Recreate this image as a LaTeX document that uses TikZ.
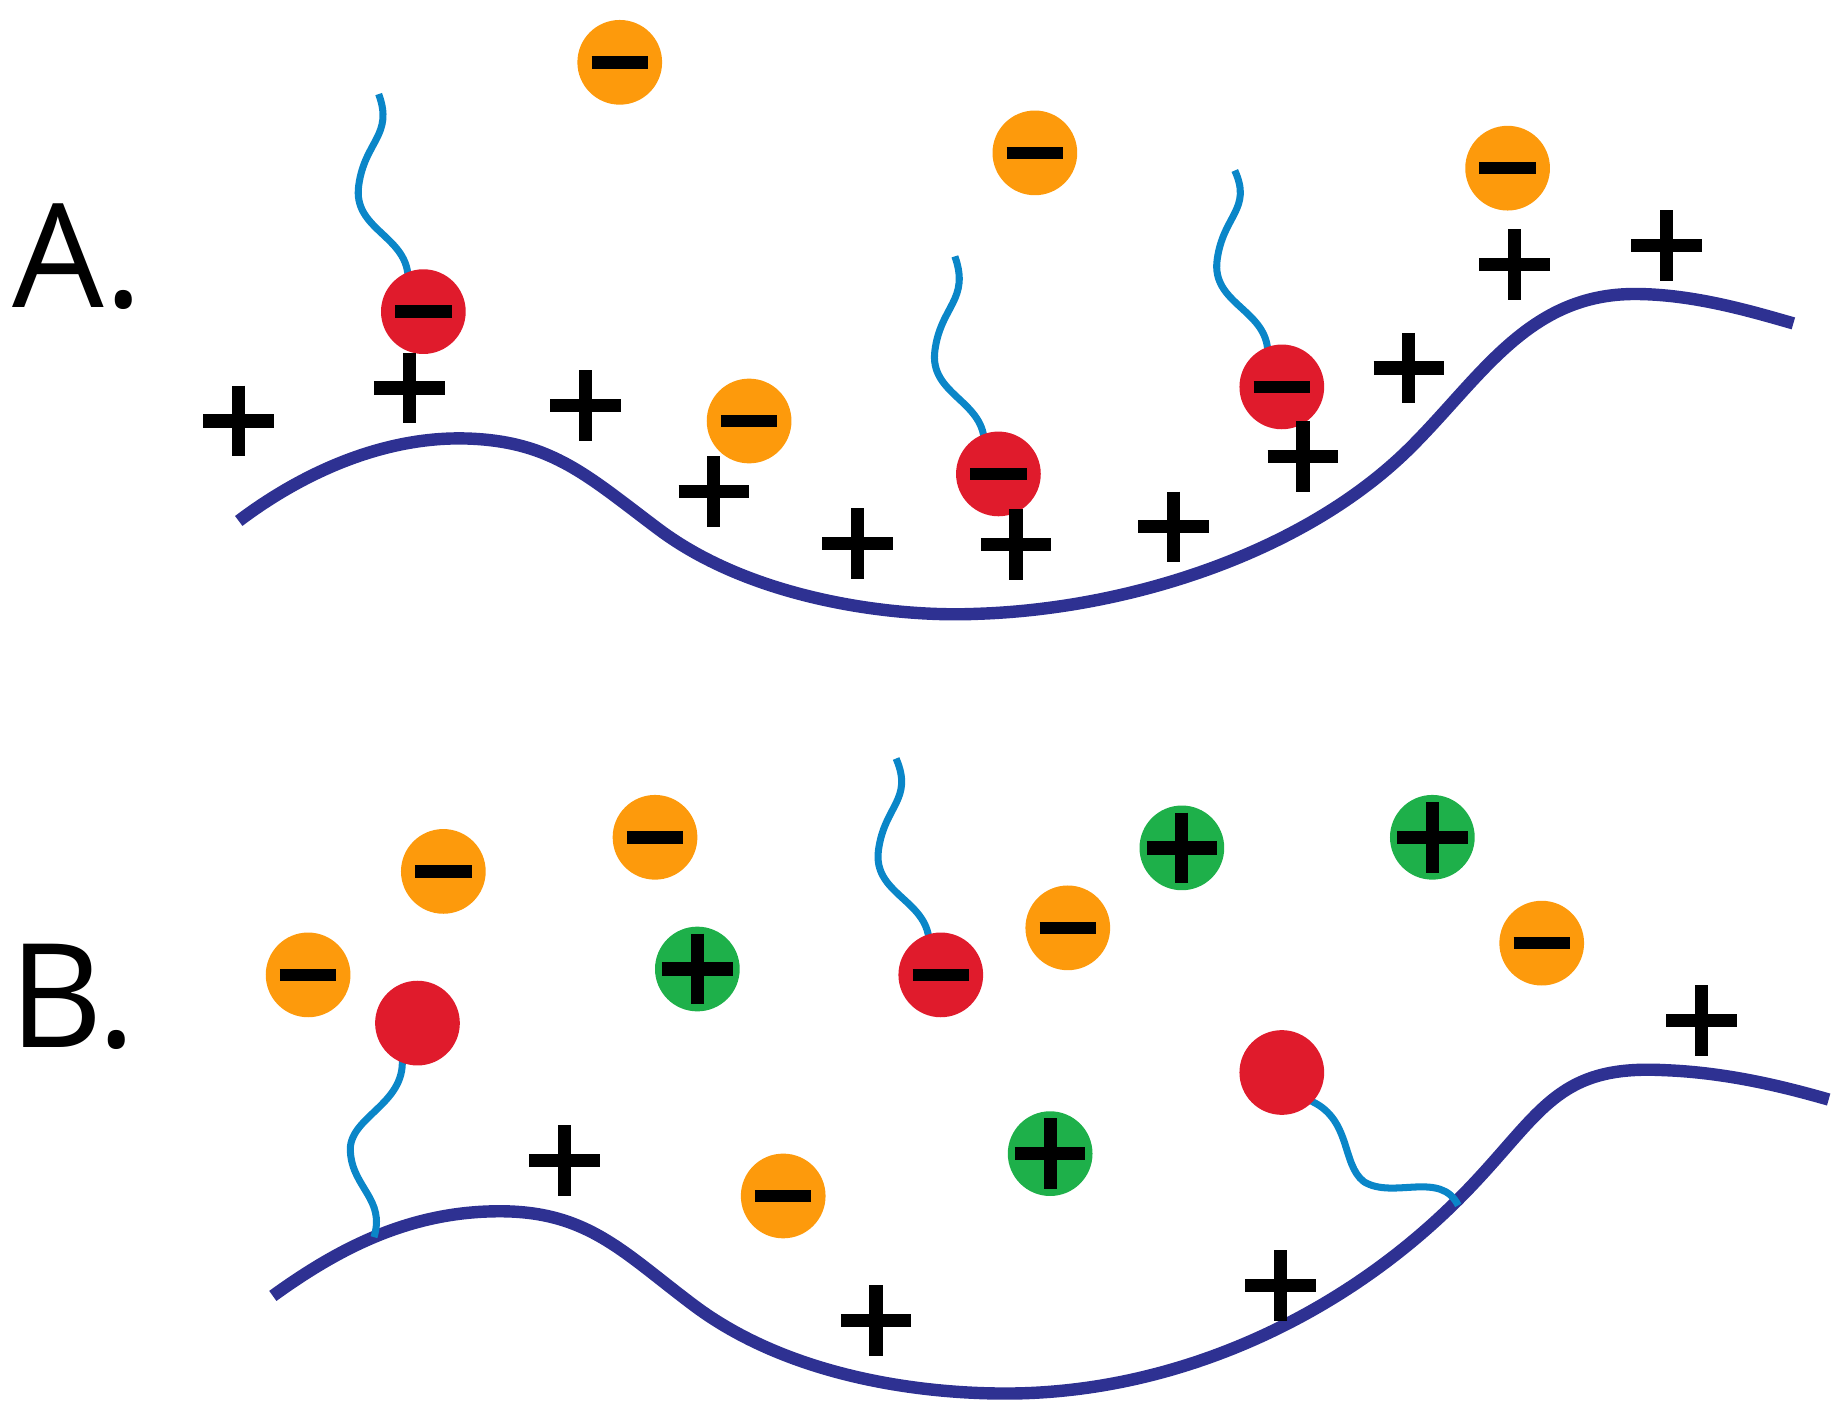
\documentclass[tikz,border=0pt]{standalone}
\usepackage{fontspec}
\setmainfont{Open Sans}
\definecolor{org}{HTML}{FD9A0C}
\definecolor{rd}{HTML}{E01B2C}
\definecolor{gr}{HTML}{1EB04A}
\definecolor{surf}{HTML}{2E3192}
\definecolor{tail}{HTML}{0A86C8}
\tikzset{
 ion/.style={circle,minimum size=0.72cm,inner sep=0},
 negion/.style={ion,fill=org},
 posion/.style={ion,fill=gr},
 headion/.style={ion,fill=rd},
 surface/.style={surf,line width=3pt,line cap=butt},
 tl/.style={tail,line width=1.7pt},
 pl/.style={black,line width=3.2pt},
 ml/.style={black,line width=3pt},
}
\newcommand{\mn}[1]{\draw[ml] ($(#1)+(-24,0)$) -- ($(#1)+(24,0)$);}
\newcommand{\pls}[1]{\draw[pl] ($(#1)+(-30,0)$) -- ($(#1)+(30,0)$); \draw[pl] ($(#1)+(0,-30)$) -- ($(#1)+(0,30)$);}
\usetikzlibrary{calc}
\begin{document}
\begin{tikzpicture}[x=0.01cm,y=-0.01cm]
\useasboundingbox (0,0) rectangle (1557,1197);
\node[font=\fontsize{35}{40}\selectfont] (la) at (66,218) {A.};
\node[font=\fontsize{35}{40}\selectfont] (lb) at (62,848) {B.};
% surfaces
\draw[surface] (203,443) .. controls (260,400) and (330,370) .. (400,373) .. controls (470,376) and (500,405) .. (560,450) .. controls (640,510) and (760,525) .. (830,522) .. controls (960,518) and (1110,470) .. (1200,380) .. controls (1260,320) and (1300,250) .. (1390,250) .. controls (1440,250) and (1490,265) .. (1525,275);
\draw[surface] (232,1102) .. controls (290,1060) and (350,1030) .. (425,1030) .. controls (500,1030) and (530,1065) .. (590,1110) .. controls (670,1170) and (780,1185) .. (855,1185) .. controls (1000,1185) and (1140,1120) .. (1240,1020) .. controls (1310,950) and (1320,905) .. (1415,910) .. controls (1470,912) and (1520,925) .. (1555,935);
% tails
\draw[tl] (347,235) .. controls (345,200) and (300,195) .. (305,158) .. controls (310,120) and (335,115) .. (322,80);
\draw[tl] (837,375) .. controls (835,340) and (790,335) .. (795,298) .. controls (800,260) and (825,255) .. (812,218);
\draw[tl] (1078,298) .. controls (1076,263) and (1030,258) .. (1035,221) .. controls (1040,183) and (1065,178) .. (1050,145);
\draw[tl] (790,800) .. controls (788,765) and (742,760) .. (747,723) .. controls (752,685) and (777,680) .. (762,645);
\draw[tl] (342,900) .. controls (345,940) and (295,950) .. (298,980) .. controls (300,1010) and (328,1020) .. (318,1052);
\draw[tl] (1112,935) .. controls (1150,950) and (1140,990) .. (1160,1005) .. controls (1185,1020) and (1225,995) .. (1240,1025);
% negative ions
\foreach \n/\p in {o1/{527,53},o2/{880,130},o3/{1282,143},o4/{637,358},o5/{262,829},o6/{377,741},o7/{557,712},o8/{908,789},o9/{1311,802},o10/{666,1017}}{
 \node[negion] (\n) at (\p) {}; \mn{\n}}
\foreach \n/\p in {g1/{593,824},g2/{1005,721},g3/{1218,712},g4/{893,981}}{
 \node[posion] (\n) at (\p) {}; \pls{\n}}
\foreach \n/\p in {r1/{360,265},r2/{849,403},r3/{1090,329},r4/{800,829}}{
 \node[headion] (\n) at (\p) {}; \mn{\n}}
\node[headion] (r5) at (355,870) {};
\node[headion] (r6) at (1090,912) {};
% surface charges
\foreach \n/\p in {p1/{203,358},p2/{348,330},p3/{498,345},p4/{607,418},p5/{729,462},p6/{864,463},p7/{998,448},p8/{1108,388},p9/{1198,313},p10/{1288,225},p11/{1417,209},p12/{480,987},p13/{745,1123},p14/{1089,1093},p15/{1447,868}}{
 \coordinate (\n) at (\p); \pls{\n}}
\end{tikzpicture}
\end{document}
